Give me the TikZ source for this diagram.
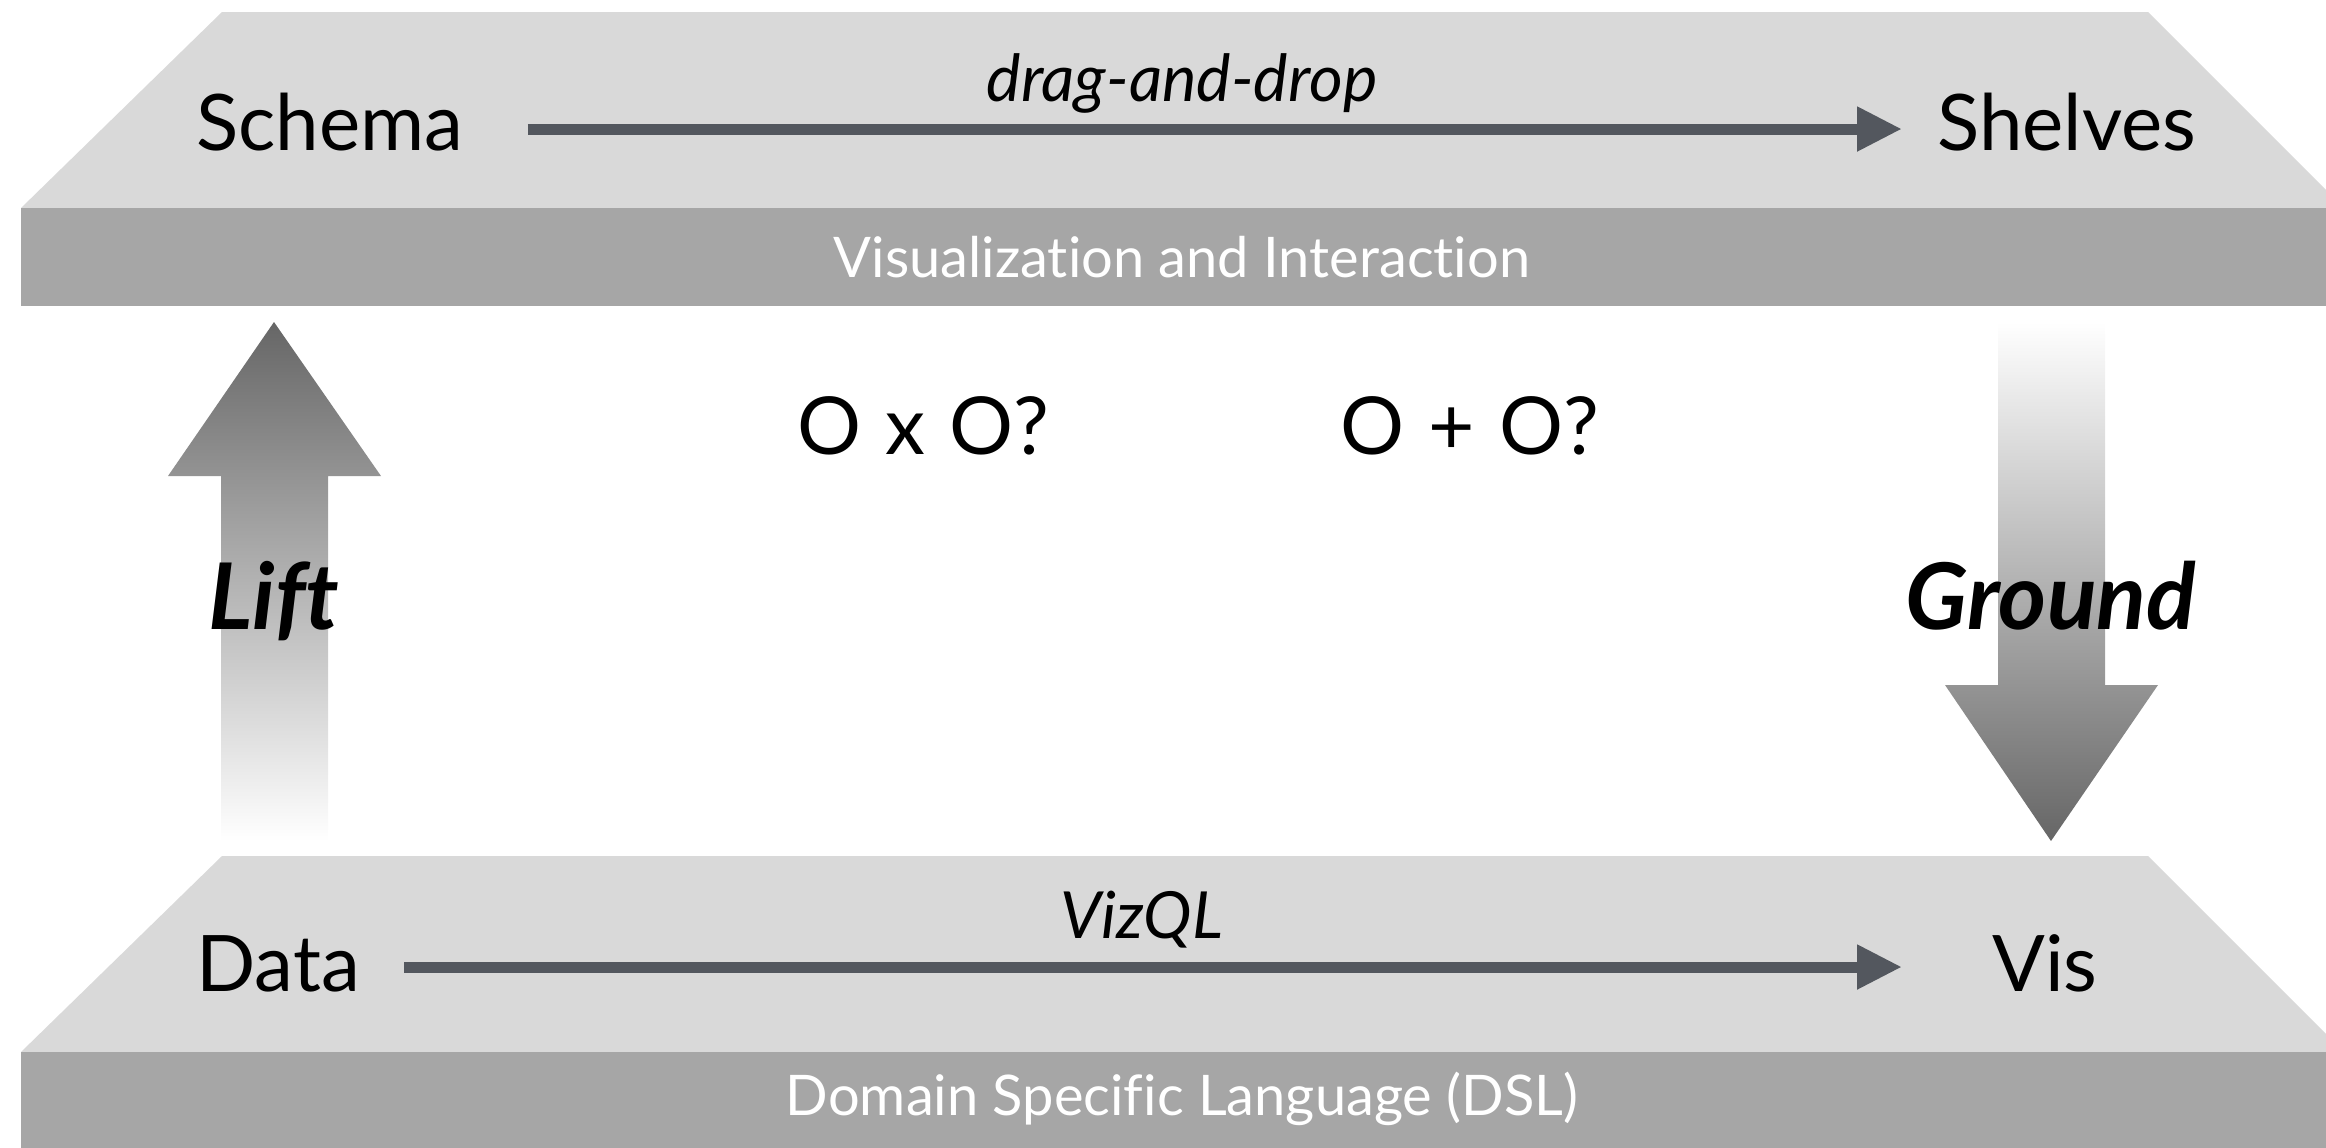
\documentclass[tikz,border=0pt]{standalone}
\usepackage{fontspec}
\setmainfont[Ligatures=NoCommon]{Lato}
\usetikzlibrary{arrows.meta}
\definecolor{slablight}{HTML}{D9D9D9}
\definecolor{slabdark}{HTML}{A6A6A6}
\definecolor{flowcol}{HTML}{53575E}
\definecolor{shadedark}{HTML}{666666}
\tikzset{
  bigword/.style={inner sep=0pt, font=\fontsize{39}{47}\selectfont, text height=28pt},
  qword/.style={inner sep=0pt, font=\fontsize{40}{48}\selectfont},
  flowlabel/.style={inner sep=0pt, font=\fontsize{32.5}{39}\selectfont\itshape},
  bandlabel/.style={inner sep=0pt, text=white, font=\fontsize{28}{34}\selectfont},
  liftword/.style={inner sep=0pt, font=\fontsize{46}{55}\selectfont\bfseries\itshape},
  flow/.style={draw=flowcol, line width=5.5pt, -{Triangle[length=22.5pt,width=21pt]}},
}
\begin{document}
\begin{tikzpicture}[x=0.5pt,y=-0.5pt]
\useasboundingbox (0,0) rectangle (2326,1147);
\clip (0,0) rectangle (2326,1147);
% top slab
\fill[slablight] (222,12) -- (2148,12) -- (2344,208) -- (21,208) -- cycle;
\fill[slabdark] (21,208) rectangle (2344,306);
% bottom slab
\fill[slablight] (222,856) -- (2148,856) -- (2344,1052) -- (21,1052) -- cycle;
\fill[slabdark] (21,1052) rectangle (2344,1150);
% lift / ground arrows
\shade[top color=shadedark, bottom color=white]
  (274,322) -- (381,476) -- (328,476) -- (328,841) -- (221,841) -- (221,476) -- (168,476) -- cycle;
\shade[top color=white, bottom color=shadedark]
  (1998,322) -- (2105,322) -- (2105,685) -- (2158,685) -- (2051,841) -- (1945,685) -- (1998,685) -- cycle;
% words
\node[bigword, text depth=7pt, anchor=west] (schema) at (196,129) {Schema};
\node[bigword, text depth=7pt, anchor=west] (shelves) at (1937,129) {Shelves};
\node[bigword, text depth=4pt, anchor=west] (data) at (196,967) {Data};
\node[bigword, text depth=4pt, anchor=west] (vis) at (1992,967) {Vis};
\node[flowlabel] (dnd) at (1182,83) {drag-and-drop};
\node[flowlabel] (vizql) at (1142,920) {VizQL};
\node[bandlabel] (vi) at (1182,257) {Visualization and Interaction};
\node[bandlabel] (dsl) at (1182,1099) {Domain Specific Language (DSL)};
\node[qword] (oxo) at (923,426) {O\hspace{0.3em}x\hspace{0.3em}O?};
\node[qword] (opo) at (1470,426) {O\hspace{0.3em}+\hspace{0.3em}O?};
\node[liftword, anchor=base] (lift) at (274,629) {Lift};
\node[liftword, anchor=base] (ground) at (2051,629) {Ground};
% connectors
\draw[flow, shorten <=32pt, shorten >=17.5pt] (schema.east) -- (shelves.west);
\draw[flow, shorten <=22pt, shorten >=45pt] (data.east) -- (vis.west);
\end{tikzpicture}
\end{document}
